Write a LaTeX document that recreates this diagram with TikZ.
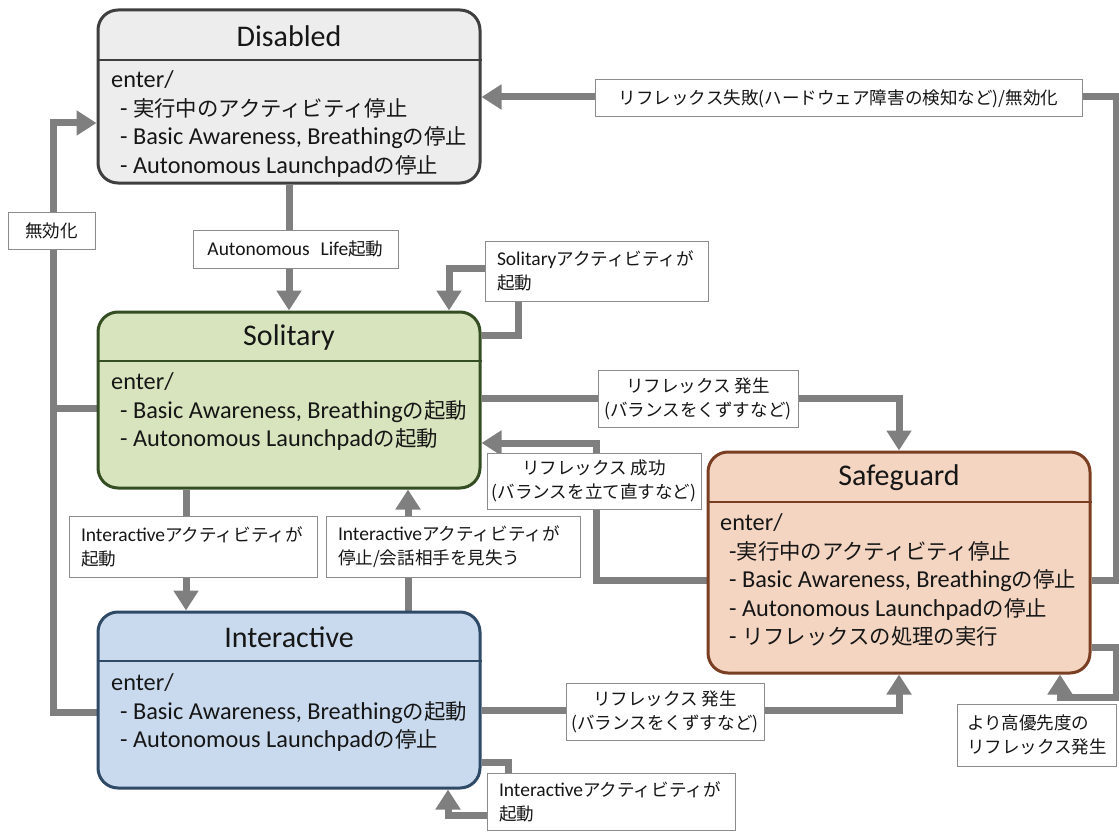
\documentclass[tikz,border=0pt]{standalone}
\usepackage{fontspec}
\setmainfont{Carlito}
\newfontfamily\cjkbody{Noto Sans CJK JP}[Scale=0.88]
\newfontfamily\cjklabel{Noto Sans CJK JP}[Scale=0.9]
\usetikzlibrary{arrows.meta,backgrounds}

\newcommand\cjkcur{\cjkbody}
\newcommand\jp[1]{{\cjkcur #1}}
\newcommand\ind{\hspace*{9pt}}

\definecolor{conncol}{HTML}{7F7F7F}
\definecolor{lblline}{HTML}{8C8C8C}
\definecolor{txt}{HTML}{161616}
\definecolor{disfill}{HTML}{EDEDED}
\definecolor{disdraw}{HTML}{3F3F3F}
\definecolor{solfill}{HTML}{D7E4BD}
\definecolor{soldraw}{HTML}{344D22}
\definecolor{intfill}{HTML}{C9DAEE}
\definecolor{intdraw}{HTML}{2E4A66}
\definecolor{saffill}{HTML}{F3D5C2}
\definecolor{safdraw}{HTML}{7A3E22}

\tikzset{
  conn/.style={draw=conncol, line width=7pt, -{Triangle[length=20pt,width=24pt]}},
  lbl/.style={draw=lblline, fill=white, line width=1pt, inner ysep=0pt,
    text=txt, font=\fontsize{19.5}{24}\selectfont\let\cjkcur\cjklabel},
  lblc/.style={lbl, align=center, inner xsep=0pt},
  lbll/.style={lbl, align=left, inner xsep=12pt},
  state/.style={rounded corners=20pt, line width=3pt, inner sep=0pt, minimum width=382pt},
  title/.style={font=\fontsize{30}{32}\selectfont, text=txt, inner sep=0pt},
  body/.style={anchor=north west, align=left, inner sep=0pt, text=txt,
    font=\fontsize{24.3}{28.5}\selectfont},
  divider/.style={line width=1.5pt},
}

\begin{document}
\begin{tikzpicture}[x=1pt,y=-1pt]
\useasboundingbox (0,0) rectangle (1119,832);

% ---- states ----
\node[state, fill=disfill, draw=disdraw, minimum height=173pt] (dis) at (289,96.5) {};
\node[state, fill=solfill, draw=soldraw, minimum height=176pt] (sol) at (289,400) {};
\node[state, fill=intfill, draw=intdraw, minimum height=176pt] (int) at (289,700) {};
\node[state, fill=saffill, draw=safdraw, minimum height=221pt] (saf) at (899,562.5) {};

\draw[divider, draw=disdraw] (dis.west |- 0,60) -- (dis.east |- 0,60);
\draw[divider, draw=soldraw] (sol.west |- 0,361) -- (sol.east |- 0,361);
\draw[divider, draw=intdraw] (int.west |- 0,661) -- (int.east |- 0,661);
\draw[divider, draw=safdraw] (saf.west |- 0,502) -- (saf.east |- 0,502);

\node[title] (distitle) at (dis.north |- 0,36) {Disabled};
\node[title] (soltitle) at (sol.north |- 0,337) {Solitary};
\node[title] (inttitle) at (int.north |- 0,637) {Interactive};
\node[title] (saftitle) at (saf.north |- 0,478) {Safeguard};

\node[body] (disbody) at (111,70.5) {enter/\\
  \ind- \jp{実行中のアクティビティ停止}\\
  \ind- Basic Awareness, Breathing\jp{の停止}\\
  \ind- Autonomous Launchpad\jp{の停止}};
\node[body] (solbody) at (111,372.5) {enter/\\
  \ind- Basic Awareness, Breathing\jp{の起動}\\
  \ind- Autonomous Launchpad\jp{の起動}};
\node[body] (intbody) at (111,673.5) {enter/\\
  \ind- Basic Awareness, Breathing\jp{の起動}\\
  \ind- Autonomous Launchpad\jp{の停止}};
\node[body] (safbody) at (720,513.5) {enter/\\
  \ind-\jp{実行中のアクティビティ停止}\\
  \ind- Basic Awareness, Breathing\jp{の停止}\\
  \ind- Autonomous Launchpad\jp{の停止}\\
  \ind- \jp{リフレックスの処理の実行}};

% ---- transition labels ----
\node[lblc, minimum width=487pt, minimum height=37pt] (lfail) at (838.5,98.5)
  {\jp{リフレックス失敗(ハードウェア障害の検知など)/無効化}};
\node[lblc, minimum width=87pt, minimum height=37pt] (ldis) at (51.5,230.5) {\jp{無効化}};
\node[lblc, minimum width=205pt, minimum height=38pt] (lauto) at (295.5,249)
  {Autonomous\hspace{0.55em}Life\jp{起動}};
\node[lbll, text width=199pt, minimum height=60pt] (lsolo) at (596.5,271)
  {Solitary\jp{アクティビティが}\\\jp{起動}};
\node[lblc, minimum width=200pt, minimum height=57pt] (lref1) at (698,398.5)
  {\jp{リフレックス 発生}\\\jp{(バランスをくずすなど)}};
\node[lblc, minimum width=214pt, minimum height=56pt] (lok) at (594,481)
  {\jp{リフレックス 成功}\\\jp{(バランスを立て直すなど)}};
\node[lbll, text width=224pt, minimum height=61pt] (lia) at (193,546.5)
  {Interactive\jp{アクティビティが}\\\jp{起動}};
\node[lbll, text width=230pt, minimum height=61pt] (listop) at (453,546.5)
  {Interactive\jp{アクティビティが}\\\jp{停止/会話相手を見失う}};
\node[lblc, minimum width=198pt, minimum height=57pt] (lref2) at (665,711.5)
  {\jp{リフレックス 発生}\\\jp{(バランスをくずすなど)}};
\node[lbll, text width=224pt, minimum height=57pt] (liloop) at (611,801.5)
  {Interactive\jp{アクティビティが}\\\jp{起動}};
\node[lbll, inner xsep=10pt, text width=139pt, minimum height=62pt] (lhigh) at (1036.5,735)
  {\jp{より高優先度の}\\\jp{リフレックス発生}};

% ---- transitions ----
\begin{pgfonlayer}{background}
  % failure: Safeguard -> Disabled
  \draw[conn] (saf.east |- 0,580) -- (1116,580) -- (1116,97) -- (dis.east |- 0,97);
  % disable: Solitary / Interactive -> Disabled
  \draw[conn] (int.west |- 0,712) -- (53,712) -- (53,123) -- (dis.west |- 0,123);
  \draw[conn, -] (sol.west |- 0,408) -- (53,408);
  % Disabled -> Solitary
  \draw[conn] (dis.south) -- (sol.north);
  % Solitary self transition
  \draw[conn] (sol.east |- 0,335) -- (518,335) -- (518,268) -- (449,268) -- (sol.north -| 449,0);
  % Solitary -> Safeguard
  \draw[conn] (sol.east |- 0,398) -- (899,398) -- (saf.north);
  % Safeguard -> Solitary
  \draw[conn] (saf.west |- 0,580) -- (596,580) -- (596,443) -- (sol.east |- 0,443);
  % Solitary <-> Interactive
  \draw[conn] (sol.south -| 186,0) -- (int.north -| 186,0);
  \draw[conn] (int.north -| 408,0) -- (sol.south -| 408,0);
  % Interactive -> Safeguard
  \draw[conn] (int.east |- 0,710) -- (899,710) -- (saf.south);
  % Interactive self transition
  \draw[conn] (int.east |- 0,762) -- (508,762) -- (508,815) -- (448,815) -- (int.south -| 448,0);
  % Safeguard self transition (higher priority reflex)
  \draw[conn] (saf.east |- 0,647) -- (1116,647) -- (1116,697) -- (1060,697) -- (saf.south -| 1060,0);
\end{pgfonlayer}
\end{tikzpicture}
\end{document}
